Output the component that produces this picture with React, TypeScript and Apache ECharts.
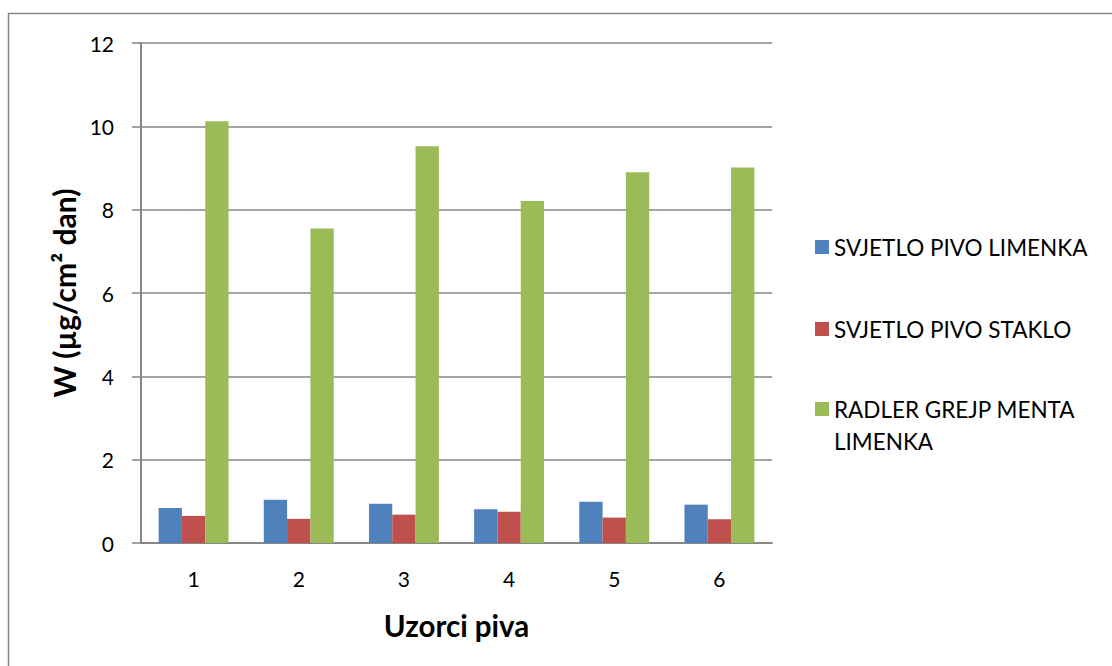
import React, { useEffect, useRef } from "react";
import * as echarts from "echarts";

const categories = ["1", "2", "3", "4", "5", "6"];
const seriesNames = ["SVJETLO PIVO LIMENKA", "SVJETLO PIVO STAKLO", "RADLER GREJP MENTA LIMENKA"];
const svjetloLimenka = [0.84, 1.04, 0.94, 0.81, 0.99, 0.92];
const svjetloStaklo = [0.65, 0.58, 0.68, 0.75, 0.61, 0.57];
const radlerLimenka = [10.12, 7.55, 9.52, 8.21, 8.9, 9.01];
const colors = ["#4F81BD", "#C0504D", "#9BBB59"];

const FONT = "Lato, 'Open Sans', sans-serif";

export default function App() {
  const ref = useRef<HTMLDivElement>(null);
  useEffect(() => {
    if (!ref.current) return;
    const chart = echarts.init(ref.current, null, { renderer: "svg" });
    const values = [svjetloLimenka, svjetloStaklo, radlerLimenka];
    const legendTops = [231, 313, 393];
    chart.setOption({
      animation: false,
      backgroundColor: "#fff",
      textStyle: { fontFamily: FONT },
      grid: { left: 141, right: 340, top: 43, bottom: 123, containLabel: false },
      legend: seriesNames.map((n, i) => ({
        data: [n],
        orient: "vertical",
        left: 815,
        top: legendTops[i],
        padding: 0,
        itemWidth: 14,
        itemHeight: i === 2 ? 46 : 14,
        itemGap: 0,
        icon: i === 2 ? "path://M0,0H14V14H0Z M0,46H0.05V46.05H0Z" : "rect",
        selectedMode: false,
        formatter: (name: string) => (name === "RADLER GREJP MENTA LIMENKA" ? "RADLER GREJP MENTA\nLIMENKA" : name),
        textStyle: {
          fontFamily: FONT,
          fontSize: 22.5,
          color: "#000",
          lineHeight: 32,
        },
      })),
      xAxis: {
        type: "category",
        data: categories,
        name: "Uzorci piva",
        nameLocation: "middle",
        nameGap: 67,
        nameTextStyle: { fontFamily: FONT, fontSize: 29.5, fontWeight: "bold", color: "#000" },
        axisLine: { lineStyle: { color: "#868686", width: 2 } },
        axisTick: { show: false },
        axisLabel: { fontFamily: FONT, fontSize: 21, color: "#000", margin: 25 },
      },
      yAxis: {
        type: "value",
        min: 0,
        max: 12,
        interval: 2,
        name: "W (µg/cm² dan)",
        nameLocation: "middle",
        nameGap: 60,
        nameTextStyle: { fontFamily: FONT, fontSize: 30, fontWeight: "bold", color: "#000" },
        axisLine: { show: true, lineStyle: { color: "#868686", width: 2 } },
        axisTick: { show: true, length: 9, lineStyle: { color: "#868686", width: 1.5 } },
        axisLabel: { fontFamily: FONT, fontSize: 21, color: "#000", margin: 27 },
        splitLine: { lineStyle: { color: "#868686", width: 1.5 } },
      },
      series: seriesNames.map((n, i) => ({
        name: n,
        type: "bar",
        data: values[i],
        barGap: "0%",
        barCategoryGap: "33.5%",
        itemStyle: { color: colors[i] },
      })),
      graphic: [
        {
          type: "rect",
          shape: { x: 8.5, y: 13.5, width: 1120, height: 680 },
          style: { fill: "none", stroke: "#868686", lineWidth: 1.5 },
          silent: true,
        },
      ],
    });
    return () => chart.dispose();
  }, []);
  return <div ref={ref} style={{ position: "absolute", left: 0, top: 0, width: 1112, height: 666 }} />;
}
